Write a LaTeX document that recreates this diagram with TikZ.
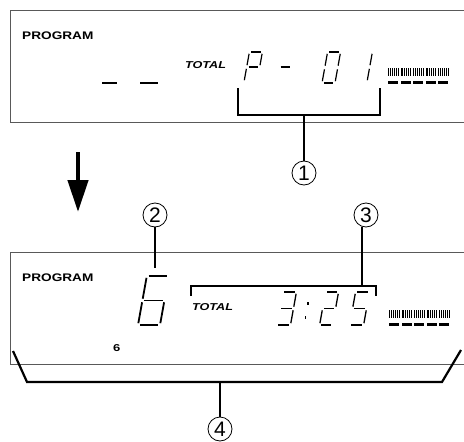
\documentclass[tikz,border=0pt]{standalone}
\usepackage{fontspec}
\setmainfont{Liberation Sans}
\usetikzlibrary{arrows.meta,calc,positioning}
\tikzset{
  panel/.style   = {draw=black!65, line width=1pt},
  seg/.style     = {line width=1.2pt},
  brk/.style     = {line width=2.2pt},
  lcdtext/.style = {inner sep=0pt, anchor=west},
  callout/.style = {circle, draw, line width=0.8pt, minimum size=24pt, inner sep=0pt,
                    font=\fontsize{21}{21}\selectfont},
  bigarrow/.style = {-{Triangle[width=20pt,length=32pt]}, line width=4.5pt},
}
% seven segment digit: x, y (bottom left), width, height, segments
\newcommand{\segdigit}[5]{%
  \begin{scope}[shift={(#1,#2)},xslant=0.18]
    \foreach \sg in {#5}{%
      \if\sg a\draw[seg] (1.8,-#4) -- (#3-1.8,-#4);\fi
      \if\sg b\draw[seg] (#3,-#4+1.8) -- (#3,-#4/2-1.8);\fi
      \if\sg c\draw[seg] (#3,-#4/2+1.8) -- (#3,-1.8);\fi
      \if\sg d\draw[seg] (1.8,0) -- (#3-1.8,0);\fi
      \if\sg e\draw[seg] (0,-1.8) -- (0,-#4/2+1.8);\fi
      \if\sg f\draw[seg] (0,-#4/2-1.8) -- (0,-#4+1.8);\fi
      \if\sg g\draw[seg] (1.8,-#4/2) -- (#3-1.8,-#4/2);\fi
    }
  \end{scope}}
% level meter: x, y (top of bars)
\newcommand{\levelmeter}[2]{%
  \foreach \k in {0,...,4}{
    \foreach \j in {0,...,5}
      \fill (#1+\k*12.5+\j*1.9,#2) rectangle ++(0.9,8);
    \fill (#1+\k*12.5,#2+12.5) rectangle ++(10.3,3);}}

\begin{document}
\begin{tikzpicture}[x=1pt,y=-1pt]
  \useasboundingbox (0,0) rectangle (464,442);

  % upper display
  \draw[panel] (470,10) -- (10,10) -- (10,122.5) -- (470,122.5);
  \node[lcdtext] (prog1) at (22,36) {\fontsize{11}{11}\selectfont\bfseries\scalebox{1.24}[1]{PROGRAM}};
  \node[lcdtext] (total1) at (185,65) {\fontsize{10}{10}\selectfont\bfseries\itshape\scalebox{1.26}[1]{TOTAL}};
  \draw[line width=2.4pt] (102,83) -- (117,83);
  \draw[line width=2.4pt] (140,83) -- (158,83);
  \segdigit{244}{82}{13}{30}{a,b,e,f,g}
  \segdigit{276}{82}{13}{30}{g}
  \segdigit{322}{83}{13}{31}{a,b,c,d,e,f}
  \segdigit{355}{82}{12}{30}{b,c}
  \levelmeter{388}{68}

  \coordinate (b1l) at (238,88);
  \coordinate (b1r) at (380,88);
  \coordinate (b1m) at (304,115);
  \draw[brk] (b1l) -- ++(0,27) -| (b1r);
  \node[callout] (n1) at (304,173) {1};
  \draw[brk] (b1m) -- (n1.north);

  \coordinate (arr) at (78,152);
  \draw[bigarrow] (arr) -- ++(0,60);

  % lower display
  \draw[panel] (470,252) -- (10,252) -- (10,364) -- (470,364);
  \node[lcdtext] (prog2) at (22,278) {\fontsize{11}{11}\selectfont\bfseries\scalebox{1.24}[1]{PROGRAM}};
  \node[lcdtext] (total2) at (192,307) {\fontsize{10}{10}\selectfont\bfseries\itshape\scalebox{1.26}[1]{TOTAL}};
  \node[lcdtext] (trk) at (113,348) {\fontsize{10}{10}\selectfont\bfseries\scalebox{1.3}[1]{6}};
  \begin{scope}[seg/.append style={line width=1.8pt}]
    \segdigit{138}{325}{22}{49}{a,c,d,e,f,g}
  \end{scope}
  \begin{scope}[seg/.append style={line width=1.3pt}]
    \segdigit{276.5}{325}{14}{33}{a,b,c,d,g}
    \segdigit{319.6}{325}{13}{33}{a,b,d,e,g}
    \segdigit{349.6}{325}{14}{33}{a,c,d,f,g}
  \end{scope}
  \fill (307,301.5) rectangle ++(1.5,3);
  \fill (304.6,315.5) rectangle ++(1.5,3);
  \levelmeter{389}{310}

  \node[callout] (n2) at (155,215) {2};
  \coordinate (d6) at (155,268);
  \draw[brk] (n2.south) -- (d6);

  \coordinate (b3l) at (191,296);
  \coordinate (b3r) at (376,296);
  \coordinate (b3m) at (362,286);
  \draw[brk] (b3l) -- ++(0,-10) -| (b3r);
  \node[callout] (n3) at (366,215) {3};
  \draw[brk] (b3m) -- (b3m |- n3.south);

  \coordinate (b4l) at (13,351);
  \coordinate (b4r) at (461,350);
  \coordinate (b4m) at (220,382);
  \draw[brk] (b4l) -- (27,382) -- (442,382) -- (b4r);
  \node[callout] (n4) at (220,429) {4};
  \draw[brk] (b4m) -- (n4.north);
\end{tikzpicture}
\end{document}
